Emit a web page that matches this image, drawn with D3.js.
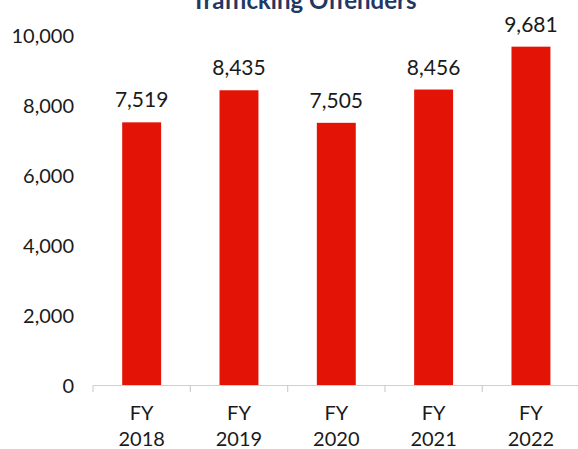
<!DOCTYPE html>
<html lang="en">

<head>
    <meta charset="UTF-8">
    <script src="https://d3js.org/d3.v7.min.js"></script>
    <title>Trafficking Offenders</title>
    <style>
        body { margin: 0; background: #fff; }
        text { font-family: Lato, "Open Sans", sans-serif; fill: #1a1a1a; }
        .tick text { font-size: 20px; }
        .domain, .tick line { stroke: #d0d0d0; }
    </style>
</head>

<body>
    <div id="chart"></div>
    <script>
        // Data
        const years = ["2018", "2019", "2020", "2021", "2022"];
        const offenders = [7519, 8435, 7505, 8456, 9681];
        const yTicks = [0, 2000, 4000, 6000, 8000, 10000];

        const data = years.map((y, i) => ({ year: y, value: offenders[i] }));
        const fmt = d3.format(",");

        // Dimensions
        const width = 578;
        const height = 449;

        const svg = d3.select("#chart")
            .append("svg")
            .attr("width", width)
            .attr("height", height);

        // Scales
        const x = d3.scaleBand()
            .domain(years)
            .range([93, 579.6])
            .paddingInner(0.6)
            .paddingOuter(0.3);

        const y = d3.scaleLinear()
            .domain([0, 10000])
            .range([385.5, 35.5]);

        // Title (cut off at the top in the original)
        svg.append("text")
            .attr("x", 304)
            .attr("y", 9)
            .attr("text-anchor", "middle")
            .attr("font-size", 24)
            .attr("font-weight", 700)
            .style("fill", "#1f3864")
            .text("Trafficking Offenders");

        // Bars
        svg.selectAll(".bar")
            .data(data)
            .join("rect")
            .attr("class", "bar")
            .attr("x", d => x(d.year))
            .attr("y", d => y(d.value))
            .attr("width", x.bandwidth())
            .attr("height", d => y(0) - y(d.value))
            .attr("fill", "#e31306");

        // Value labels
        svg.selectAll(".label")
            .data(data)
            .join("text")
            .attr("class", "label")
            .attr("x", d => x(d.year) + x.bandwidth() / 2)
            .attr("y", d => y(d.value) - 15)
            .attr("text-anchor", "middle")
            .attr("font-size", 21)
            .text(d => fmt(d.value));

        // Y axis (labels only)
        const yAxis = svg.append("g")
            .attr("transform", "translate(74,0)")
            .call(d3.axisLeft(y).tickValues(yTicks).tickFormat(fmt).tickSize(0).tickPadding(0));
        yAxis.select(".domain").remove();
        yAxis.selectAll("text").attr("dy", "0.36em");

        // X axis: boundary ticks between categories
        const step = x.step();
        const bounds = years.map((d, i) => 93 + i * step).concat([93 + years.length * step]);
        const xAxis = svg.append("g").attr("class", "x-axis");
        xAxis.append("line")
            .attr("class", "domain")
            .attr("x1", 93).attr("x2", 93 + years.length * step)
            .attr("y1", 385.5).attr("y2", 385.5)
            .attr("stroke-width", 1.2);
        xAxis.selectAll(".bound")
            .data(bounds)
            .join("line")
            .attr("class", "bound")
            .attr("x1", d => d).attr("x2", d => d)
            .attr("y1", 385.5).attr("y2", 392)
            .attr("stroke", "#d0d0d0")
            .attr("stroke-width", 1.2);

        const xl = xAxis.selectAll(".xlabel")
            .data(years)
            .join("text")
            .attr("class", "xlabel")
            .attr("text-anchor", "middle")
            .attr("font-size", 20);
        xl.append("tspan")
            .attr("x", d => x(d) + x.bandwidth() / 2)
            .attr("y", 420)
            .text("FY");
        xl.append("tspan")
            .attr("x", d => x(d) + x.bandwidth() / 2)
            .attr("y", 446)
            .text(d => d);
    </script>
</body>

</html>
